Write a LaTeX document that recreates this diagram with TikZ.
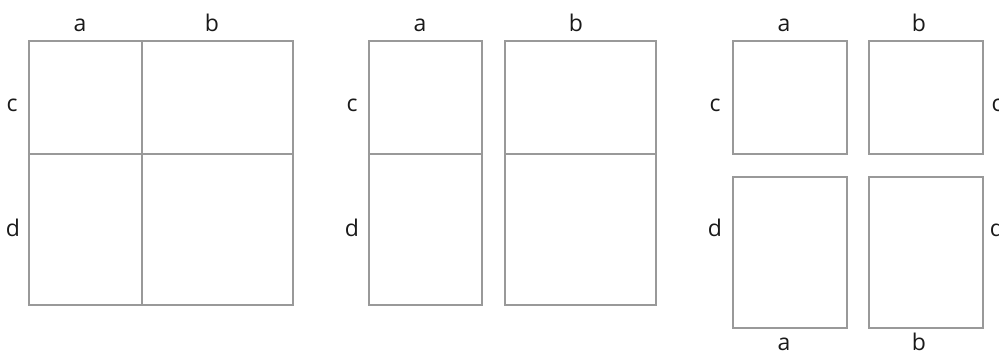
\documentclass[tikz,border=0pt]{standalone}
\usepackage{fontspec}
\setmainfont{Open Sans}
\definecolor{boxline}{HTML}{999999}
\definecolor{labeltext}{HTML}{1A1A1A}
\tikzset{
  cell/.style={draw=boxline, line width=1.7pt, fill=none},
  lbl/.style={anchor=base, inner sep=0pt, text=labeltext, font=\fontsize{23}{27}\selectfont}
}
\newcommand{\cellbox}[5]{\node[cell, rectangle, inner sep=0pt, minimum width={(#4-#2)*1pt}, minimum height={(#5-#3)*1pt}, anchor=north west] (#1) at (#2,#3) {};}
\begin{document}
\begin{tikzpicture}[x=1pt,y=-1pt]
\useasboundingbox (0,0) rectangle (999,352);
% panel 1
\cellbox{p1ac}{28}{40}{141}{153}
\cellbox{p1bc}{141}{40}{292}{153}
\cellbox{p1ad}{28}{153}{141}{304}
\cellbox{p1bd}{141}{153}{292}{304}
\node[lbl] (p1a) at (80,31.5) {a};
\node[lbl] (p1b) at (212,31.5) {b};
\node[lbl] (p1c) at (12,111.5) {c};
\node[lbl] (p1d) at (13,236.5) {d};
% panel 2
\cellbox{p2ac}{368}{40}{481}{153}
\cellbox{p2ad}{368}{153}{481}{304}
\cellbox{p2bc}{504}{40}{655}{153}
\cellbox{p2bd}{504}{153}{655}{304}
\node[lbl] (p2a) at (420,31.5) {a};
\node[lbl] (p2b) at (576,31.5) {b};
\node[lbl] (p2c) at (352,111.5) {c};
\node[lbl] (p2d) at (352,236.5) {d};
% panel 3
\cellbox{p3ac}{732}{40}{846}{153}
\cellbox{p3bc}{868}{40}{982}{153}
\cellbox{p3ad}{732}{176}{846}{327}
\cellbox{p3bd}{868}{176}{982}{327}
\node[lbl] (p3a) at (784,31.5) {a};
\node[lbl] (p3b) at (919,31.5) {b};
\node[lbl] (p3c) at (715,111.5) {c};
\node[lbl] (p3d) at (715,236.5) {d};
\node[lbl] (p3cr) at (997,111.5) {c};
\node[lbl] (p3dr) at (997,236.5) {d};
\node[lbl] (p3ab) at (784,350.5) {a};
\node[lbl] (p3bb) at (919,350.5) {b};
\end{tikzpicture}
\end{document}
